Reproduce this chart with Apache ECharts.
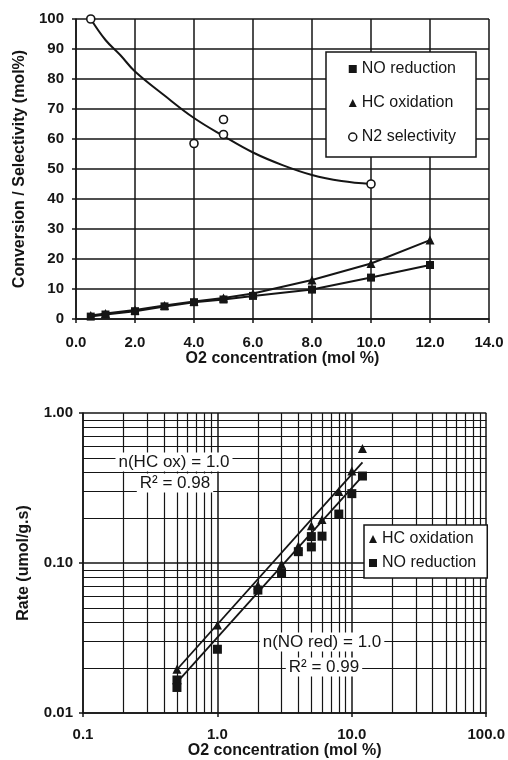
<!DOCTYPE html>
<html>
<head>
<meta charset="utf-8">
<script src="https://cdn.jsdelivr.net/npm/echarts@6/dist/echarts.min.js"></script>
<style>
html, body { margin: 0; padding: 0; background: #fff; }
#chart { width: 508px; height: 760px; }
</style>
</head>
<body>
<div id="chart"></div>
<script>
// top: conversion / selectivity vs O2 concentration
var o2Top = [0.5, 1, 2, 3, 4, 5, 6, 8, 10, 12];
var noReduction = [0.8, 1.5, 2.6, 4.2, 5.6, 6.5, 7.7, 9.8, 13.8, 18.0];
var hcOxidation = [1.2, 1.8, 3.0, 4.5, 5.8, 7.0, 8.5, 13.0, 18.5, 26.3];
var n2X = [0.5, 4, 5, 5, 10];
var n2Selectivity = [100, 58.5, 66.5, 61.5, 45];
var n2FitX = [0.5, 1, 1.5, 2, 3, 4, 5, 6, 7, 8, 9, 10];
var n2Fit = [100, 93, 88, 82.5, 74.5, 67, 61, 55.5, 51.3, 48, 46, 45];

// bottom: rate vs O2 concentration (log-log)
var hcRateX = [0.5, 1, 2, 3, 4, 5, 6, 8, 10, 12];
var hcRate = [0.0196, 0.0386, 0.071, 0.098, 0.13, 0.177, 0.195, 0.30, 0.41, 0.58];
var noRateX = [0.5, 0.5, 1, 2, 3, 4, 5, 5, 6, 8, 10, 12];
var noRate = [0.0166, 0.0148, 0.0266, 0.066, 0.086, 0.119, 0.150, 0.128, 0.151, 0.212, 0.29, 0.38];
var hcFitX = [0.5, 12];
var hcFit = [0.0195, 0.468];
var noFitX = [0.5, 12];
var noFit = [0.016, 0.38];

// minor log grid lines
var minorX = [0.2, 0.3, 0.4, 0.5, 0.6, 0.7, 0.8, 0.9, 2, 3, 4, 5, 6, 7, 8, 9, 20, 30, 40, 50, 60, 70, 80, 90];
var minorY = [0.02, 0.03, 0.04, 0.05, 0.06, 0.07, 0.08, 0.09, 0.2, 0.3, 0.4, 0.5, 0.6, 0.7, 0.8, 0.9];

var ink = '#151515';
var font = '"Liberation Sans", Arial, sans-serif';

function pairs(xs, ys) {
    return xs.map(function (x, i) { return [x, ys[i]]; });
}
function clean(v) {
    return +(+v).toPrecision(4);
}

var gridLine = { show: true, lineStyle: { color: ink, width: 1.5 } };
var axisLine = { show: true, lineStyle: { color: ink, width: 1.5 } };
var tick = { show: true, length: 4, lineStyle: { color: ink, width: 1.5 } };
var nameStyle = { fontSize: 16, fontWeight: 'bold', color: ink, fontFamily: font };
var labelStyle = { fontSize: 15, fontWeight: 'bold', color: ink, fontFamily: font };

var chart = echarts.init(document.getElementById('chart'));

chart.setOption({
    backgroundColor: '#fff',
    animation: false,
    textStyle: { fontFamily: font, color: ink },
    grid: [
        { left: 76, top: 19, width: 413, height: 300 },
        { left: 83, top: 413, width: 404, height: 300 }
    ],
    xAxis: [
        {
            gridIndex: 0, type: 'value', min: 0, max: 14, interval: 2,
            name: 'O2 concentration (mol %)', nameLocation: 'middle', nameGap: 32,
            nameTextStyle: nameStyle,
            axisLine: axisLine, axisTick: tick, splitLine: gridLine,
            axisLabel: Object.assign({ margin: 16, formatter: function (v) { return v.toFixed(1); } }, labelStyle)
        },
        {
            gridIndex: 1, type: 'log', logBase: 10, min: 0.1, max: 100,
            name: 'O2 concentration (mol %)', nameLocation: 'middle', nameGap: 22,
            nameTextStyle: nameStyle,
            axisLine: axisLine, axisTick: tick, splitLine: gridLine,
            axisLabel: Object.assign({ margin: 14, formatter: function (v) {
                v = clean(v);
                return v < 1 ? String(v) : v.toFixed(1);
            } }, labelStyle)
        }
    ],
    yAxis: [
        {
            gridIndex: 0, type: 'value', min: 0, max: 100, interval: 10,
            name: 'Conversion / Selectivity (mol%)', nameLocation: 'middle', nameGap: 47,
            nameTextStyle: nameStyle,
            axisLine: axisLine, axisTick: tick, splitLine: gridLine,
            axisLabel: Object.assign({ margin: 12 }, labelStyle)
        },
        {
            gridIndex: 1, type: 'log', logBase: 10, min: 0.01, max: 1,
            name: 'Rate (umol/g.s)', nameLocation: 'middle', nameGap: 51,
            nameTextStyle: nameStyle,
            axisLine: axisLine, axisTick: tick, splitLine: gridLine,
            axisLabel: Object.assign({ margin: 10, formatter: function (v) {
                return clean(v).toFixed(2);
            } }, labelStyle)
        }
    ],
    legend: [
        {
            left: 326, top: 52, orient: 'vertical', selectedMode: false,
            itemWidth: 8, itemHeight: 8, itemGap: 18,
            padding: [9, 20, 12, 22],
            backgroundColor: '#fff', borderColor: ink, borderWidth: 1.5, borderRadius: 0,
            textStyle: { fontSize: 16, color: ink, lineHeight: 16, fontFamily: font },
            data: [
                { name: 'NO reduction', icon: 'rect' },
                { name: 'HC oxidation', icon: 'triangle' },
                { name: 'N2 selectivity', icon: 'circle', itemStyle: { color: '#fff', borderColor: ink, borderWidth: 1.5, opacity: 1 } }
            ]
        },
        {
            left: 364, top: 525, orient: 'vertical', selectedMode: false,
            itemWidth: 8, itemHeight: 8, itemGap: 8,
            padding: [6, 11, 7, 5],
            backgroundColor: '#fff', borderColor: ink, borderWidth: 1.5, borderRadius: 0,
            textStyle: { fontSize: 16, color: ink, lineHeight: 16, fontFamily: font },
            data: [
                { name: 'HC oxidation', icon: 'triangle' },
                { name: 'NO reduction', icon: 'rect' }
            ]
        }
    ],
    series: [
        // top chart
        {
            name: 'NO reduction', type: 'line', xAxisIndex: 0, yAxisIndex: 0, z: 3,
            data: pairs(o2Top, noReduction),
            symbol: 'rect', symbolSize: 8,
            itemStyle: { color: ink }, lineStyle: { color: ink, width: 2 }
        },
        {
            name: 'HC oxidation', type: 'line', xAxisIndex: 0, yAxisIndex: 0, z: 3,
            data: pairs(o2Top, hcOxidation),
            symbol: 'triangle', symbolSize: 9,
            itemStyle: { color: ink }, lineStyle: { color: ink, width: 2 }
        },
        {
            name: 'N2 fit', type: 'line', xAxisIndex: 0, yAxisIndex: 0, z: 3,
            data: pairs(n2FitX, n2Fit), smooth: 0.4,
            showSymbol: false, symbol: 'none',
            lineStyle: { color: ink, width: 2 }
        },
        {
            name: 'N2 selectivity', type: 'scatter', xAxisIndex: 0, yAxisIndex: 0, z: 4,
            data: pairs(n2X, n2Selectivity),
            symbol: 'circle', symbolSize: 8,
            itemStyle: { color: '#fff', borderColor: ink, borderWidth: 1.6, opacity: 1 }
        },
        // bottom chart
        {
            name: 'NO fit', type: 'line', xAxisIndex: 1, yAxisIndex: 1, z: 3,
            data: pairs(noFitX, noFit), symbol: 'none',
            lineStyle: { color: ink, width: 1.8 },
            markLine: {
                silent: true, symbol: ['none', 'none'], z: 1,
                label: { show: false },
                lineStyle: { color: ink, width: 1.2, type: 'solid' },
                emphasis: { disabled: true },
                data: minorX.map(function (v) { return { xAxis: v }; })
                    .concat(minorY.map(function (v) { return { yAxis: v }; }))
            }
        },
        {
            name: 'HC fit', type: 'line', xAxisIndex: 1, yAxisIndex: 1, z: 3,
            data: pairs(hcFitX, hcFit), symbol: 'none',
            lineStyle: { color: ink, width: 1.8 }
        },
        {
            name: 'HC oxidation', type: 'scatter', xAxisIndex: 1, yAxisIndex: 1, z: 4,
            data: pairs(hcRateX, hcRate),
            symbol: 'triangle', symbolSize: 9,
            itemStyle: { color: ink, opacity: 1 }
        },
        {
            name: 'NO reduction', type: 'scatter', xAxisIndex: 1, yAxisIndex: 1, z: 4,
            data: pairs(noRateX, noRate),
            symbol: 'rect', symbolSize: 9,
            itemStyle: { color: ink, opacity: 1 }
        }
    ],
    graphic: [
        { type: 'text', x: 174, y: 462, z: 100, style: { text: 'n(HC ox) = 1.0', font: '17px ' + font, fill: ink, align: 'center', verticalAlign: 'middle', backgroundColor: '#fff', padding: [1, 3] } },
        { type: 'text', x: 175, y: 483, z: 100, style: { text: 'R² = 0.98', font: '17px ' + font, fill: ink, align: 'center', verticalAlign: 'middle', backgroundColor: '#fff', padding: [1, 3] } },
        { type: 'text', x: 322, y: 642, z: 100, style: { text: 'n(NO red) = 1.0', font: '17px ' + font, fill: ink, align: 'center', verticalAlign: 'middle', backgroundColor: '#fff', padding: [1, 3] } },
        { type: 'text', x: 324, y: 667, z: 100, style: { text: 'R² = 0.99', font: '17px ' + font, fill: ink, align: 'center', verticalAlign: 'middle', backgroundColor: '#fff', padding: [1, 3] } }
    ]
});
</script>
</body>
</html>
